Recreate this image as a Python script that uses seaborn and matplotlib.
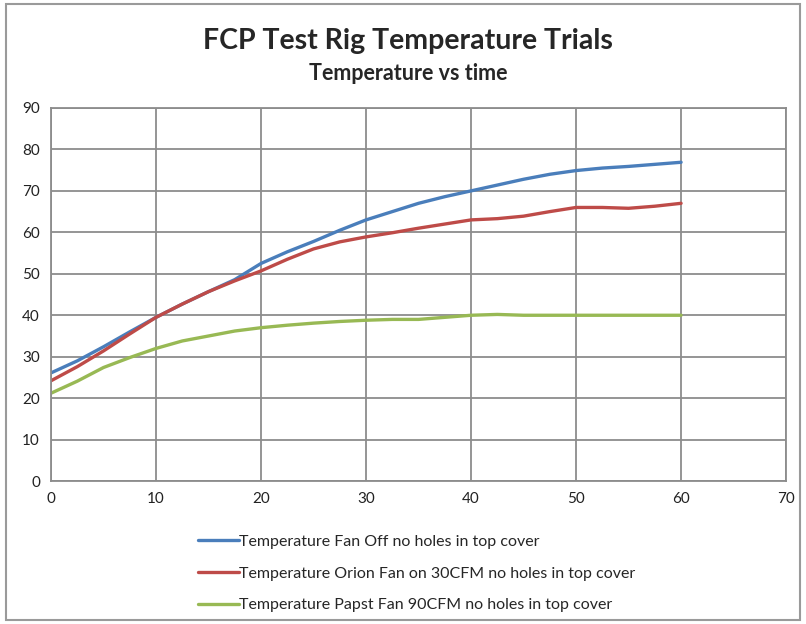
import pandas as pd
import matplotlib.pyplot as plt
import seaborn as sns
from matplotlib.patches import Rectangle

# readings taken every 2.5 minutes off the curves
time_min = [0, 2.5, 5, 7.5, 10, 12.5, 15, 17.5, 20, 22.5, 25, 27.5, 30,
            32.5, 35, 37.5, 40, 42.5, 45, 47.5, 50, 52.5, 55, 57.5, 60]
fan_off = [26.1, 29.0, 32.4, 36.0, 39.5, 42.7, 45.7, 48.6, 52.5, 55.3, 57.8, 60.5, 63.0,
           65.0, 67.0, 68.6, 70.0, 71.4, 72.8, 74.0, 74.9, 75.5, 75.9, 76.4, 76.9]
orion_30cfm = [24.2, 27.6, 31.4, 35.5, 39.5, 42.7, 45.7, 48.3, 50.7, 53.5, 56.0, 57.7, 58.9,
               59.9, 61.0, 62.0, 63.0, 63.3, 63.9, 65.0, 66.0, 66.0, 65.8, 66.3, 67.0]
papst_90cfm = [21.2, 24.1, 27.4, 29.8, 32.0, 33.8, 35.0, 36.2, 37.0, 37.6, 38.1, 38.5, 38.8,
               39.0, 39.0, 39.5, 40.0, 40.2, 40.0, 40.0, 40.0, 40.0, 40.0, 40.0, 40.0]

labels = ['Temperature Fan Off no holes in top cover',
          'Temperature Orion Fan on 30CFM no holes in top cover',
          'Temperature Papst Fan 90CFM no holes in top cover']
colors = ['#4A7EBB', '#BE4B48', '#98B954']

df = pd.concat([
    pd.DataFrame({'time': time_min, 'temp': fan_off, 'series': labels[0]}),
    pd.DataFrame({'time': time_min, 'temp': orion_30cfm, 'series': labels[1]}),
    pd.DataFrame({'time': time_min, 'temp': papst_90cfm, 'series': labels[2]}),
])

sns.set_style('white')
plt.rcParams['font.family'] = ['Lato', 'DejaVu Sans']

fig = plt.figure(figsize=(8.06, 6.24), dpi=100)
ax = fig.add_axes([0.0633, 0.229, 0.912, 0.598])

sns.lineplot(data=df, x='time', y='temp', hue='series', palette=colors,
             linewidth=2.4, ax=ax, legend=True)

ax.set_xlim(0, 70)
ax.set_ylim(0, 90)
ax.set_xticks(range(0, 71, 10))
ax.set_yticks(range(0, 91, 10))
ax.grid(True, color='#8c8c8c', linewidth=1.3)
ax.set_axisbelow(True)
for s in ax.spines.values():
    s.set_color('#8c8c8c')
    s.set_linewidth(1.3)
ax.tick_params(axis='both', labelsize=11, length=0, pad=8, colors='#222222')
ax.set_xlabel('')
ax.set_ylabel('')

fig.text(0.506, 0.935, 'FCP Test Rig Temperature Trials', ha='center', va='center',
         fontsize=20.5, fontweight='bold')
fig.text(0.506, 0.882, 'Temperature vs time', ha='center', va='center',
         fontsize=15.5, fontweight='bold')

leg = ax.legend(loc='upper left', bbox_to_anchor=(0.18, -0.105), frameon=False,
                fontsize=11.5, handlelength=2.6, handletextpad=0.0,
                labelspacing=1.1)

fig.patches.append(Rectangle((0.007, 0.007), 0.986, 0.986, transform=fig.transFigure,
                             fill=False, edgecolor='#9a9a9a', linewidth=1.5))

fig.savefig('out.png', dpi=100, facecolor='white')
